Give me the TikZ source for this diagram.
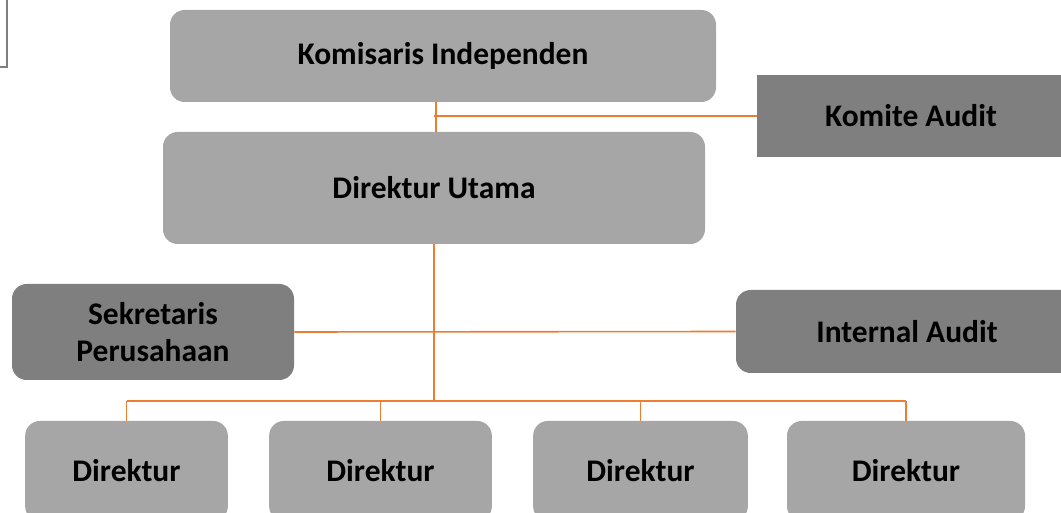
\documentclass[tikz,border=0pt]{standalone}
\usepackage{fontspec}
\setmainfont{Carlito}
\usepackage{tikz}
\usetikzlibrary{positioning}
\usepackage{xcolor}
\definecolor{boxlight}{HTML}{A6A6A6}
\definecolor{boxdark}{HTML}{7F7F7F}
\definecolor{linkorange}{HTML}{ED7D31}

\begin{document}
\begin{tikzpicture}[
  x=0.75pt, y=-0.75pt,
  orgbox/.style={rectangle, draw=none, rounded corners=11pt, fill=boxlight, align=center, font=\fontsize{23.6}{27.5}\selectfont\bfseries, inner sep=0pt},
  darkbox/.style={orgbox, fill=boxdark},
  link/.style={draw=linkorange, line width=1.2pt}
]
\useasboundingbox (0,0) rectangle (1061,513);
\draw[boxdark, line width=1.1pt] (-20,-20) rectangle (7,67);
\node[orgbox, minimum width=409.5pt, minimum height=69pt] (kom) at (443,56) {Komisaris Independen};
\node[darkbox, rounded corners=0pt, minimum width=231pt, minimum height=61.5pt] (komite) at (911,116) {Komite Audit};
\node[orgbox, minimum width=406.5pt, minimum height=84pt] (dirut) at (434,188) {Direktur Utama};
\node[darkbox, minimum width=211.5pt, minimum height=72pt] (sekr) at (153,332) {Sekretaris\\Perusahaan};
\node[darkbox, minimum width=256.5pt, minimum height=62.25pt] (ia) at (907,331.5) {Internal Audit};
\node[orgbox, minimum width=152pt, minimum height=75pt] (dir1) at (126.5,471) {Direktur};
\node[orgbox, minimum width=167pt, minimum height=75pt] (dir2) at (380.5,471) {Direktur};
\node[orgbox, minimum width=161pt, minimum height=75pt] (dir3) at (640.5,471) {Direktur};
\node[orgbox, minimum width=178.5pt, minimum height=75pt] (dir4) at (906,471) {Direktur};
\coordinate (bus) at (435,401);
\draw[link] ([xshift=1.5pt]dirut.north) -- ([xshift=1.5pt]dirut.north |- kom.south);
\draw[link] (dirut.north |- komite.west) -- (komite.west);
\draw[link] (dirut.south) -- (dirut.south |- bus);
\draw[link] (sekr.east) -- (ia.west);
\draw[link] (dir1.north |- bus) -- (dir4.north |- bus);
\foreach \d in {dir1,dir2,dir3,dir4}
  \draw[link] (\d.north) -- (\d.north |- bus);
\end{tikzpicture}
\end{document}
